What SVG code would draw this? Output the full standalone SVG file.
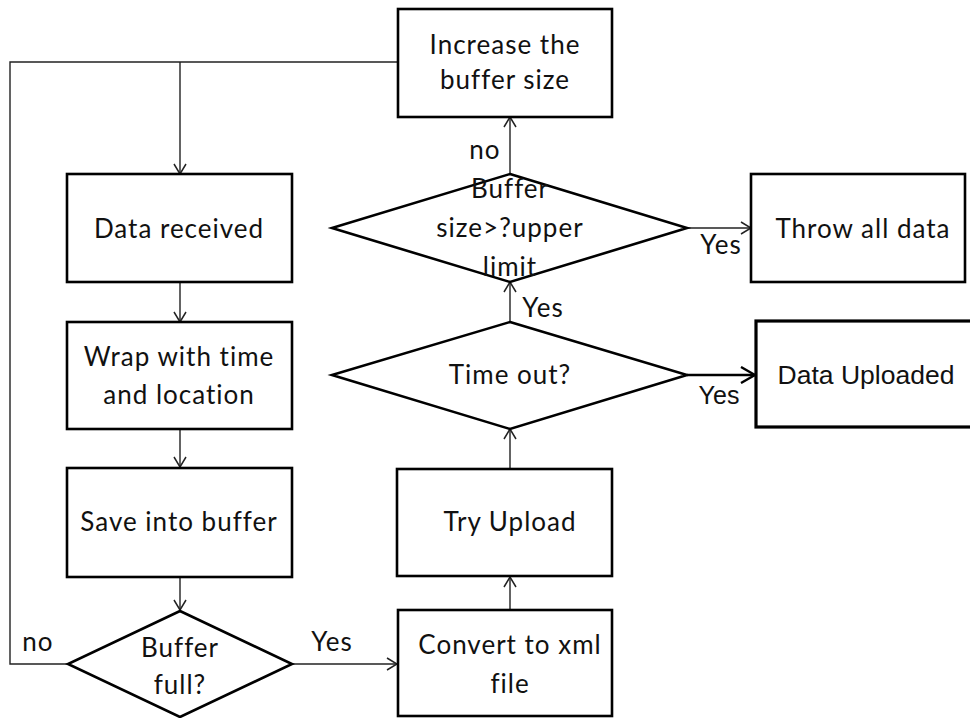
<svg xmlns="http://www.w3.org/2000/svg" width="970" height="718" viewBox="0 0 970 718">
<style>
.box{fill:#fff;stroke:#000;stroke-width:2.6}
.dia{fill:#fff;stroke:#000;stroke-width:2.6}
.t{font-family:Lato,"Open Sans",sans-serif;font-size:26px;letter-spacing:1px;fill:#111;text-anchor:middle}
.a{font-family:"Liberation Sans",Arial,sans-serif;font-size:25px;fill:#111;text-anchor:middle}
.c{fill:none;stroke:#222;stroke-width:1.4}
</style>
<defs>
<marker id="ah" markerUnits="userSpaceOnUse" viewBox="0 0 12 14" refX="11" refY="7" markerWidth="12" markerHeight="14" orient="auto">
<path d="M1,1 L11,7 L1,13" fill="none" stroke="#222" stroke-width="1.5"/>
</marker>
<marker id="ah2" markerUnits="userSpaceOnUse" viewBox="0 0 16 18" refX="15" refY="9" markerWidth="16" markerHeight="18" orient="auto">
<path d="M1,1 L15,9 L1,17" fill="none" stroke="#000" stroke-width="2.4"/>
</marker>
</defs>
<rect width="970" height="718" fill="#fff"/>
<g id="connectors">
<path class="c" d="M398,62 H10 V664 H68"/>
<path class="c" d="M180,62 V174" marker-end="url(#ah)"/>
<path class="c" d="M180,282 V322" marker-end="url(#ah)"/>
<path class="c" d="M180,429 V467" marker-end="url(#ah)"/>
<path class="c" d="M180,577 V610" marker-end="url(#ah)"/>
<path class="c" d="M292,664 H397" marker-end="url(#ah)"/>
<path class="c" d="M510,610 V577" marker-end="url(#ah)"/>
<path class="c" d="M510,469 V429" marker-end="url(#ah)"/>
<path class="c" d="M510,322 V282" marker-end="url(#ah)"/>
<path class="c" d="M510,174 V117" marker-end="url(#ah)"/>
<path class="c" d="M687,228 H751" marker-end="url(#ah)"/>
<path d="M687,375 H755" fill="none" stroke="#000" stroke-width="2.4" marker-end="url(#ah2)"/>
<text class="t" x="38" y="651">no</text>
<text class="t" x="332" y="651">Yes</text>
<text class="t" x="543" y="317">Yes</text>
<text class="t" x="485" y="159">no</text>
<text class="t" x="721" y="254">Yes</text>
<text class="a" x="719" y="404">Yes</text>
</g>
<g id="increase">
<rect class="box" x="398" y="9" width="214" height="108"/>
<text class="t" x="505" y="54">Increase the</text>
<text class="t" x="505" y="89">buffer size</text>
</g>
<g id="data-received">
<rect class="box" x="67" y="174" width="225" height="108"/>
<text class="t" x="179" y="238">Data received</text>
</g>
<g id="wrap">
<rect class="box" x="67" y="322" width="225" height="107"/>
<text class="t" x="179" y="366">Wrap with time</text>
<text class="t" x="179" y="404">and location</text>
</g>
<g id="save">
<rect class="box" x="67" y="468" width="225" height="109"/>
<text class="t" x="179" y="531">Save into buffer</text>
</g>
<g id="buffer-full">
<polygon class="dia" points="180,611 292,664 180,717 68,664"/>
<text class="t" x="180" y="657">Buffer</text>
<text class="t" x="180" y="694">full?</text>
</g>
<g id="convert">
<rect class="box" x="398" y="610" width="214" height="106"/>
<text class="t" x="510" y="654">Convert to xml</text>
<text class="t" x="510" y="693">file</text>
</g>
<g id="try-upload">
<rect class="box" x="397" y="469" width="215" height="107"/>
<text class="t" x="510" y="531">Try Upload</text>
</g>
<g id="time-out">
<polygon class="dia" points="510,322 687,375 510,429 332,375"/>
<text class="t" x="510" y="384">Time out?</text>
</g>
<g id="buffer-size">
<polygon class="dia" points="510,174 687,228 510,282 332,228"/>
<text class="t" x="510" y="198">Buffer</text>
<text class="t" x="510" y="237">size&gt;?upper</text>
<text class="t" x="510" y="276">limit</text>
</g>
<g id="throw">
<rect class="box" x="751" y="174" width="214" height="108"/>
<text class="t" x="863" y="238">Throw all data</text>
</g>
<g id="uploaded">
<rect x="756" y="321" width="240" height="106" fill="#fff" stroke="#000" stroke-width="3.2"/>
<text class="a" x="866" y="384" style="font-size:26.5px">Data Uploaded</text>
</g>
</svg>
